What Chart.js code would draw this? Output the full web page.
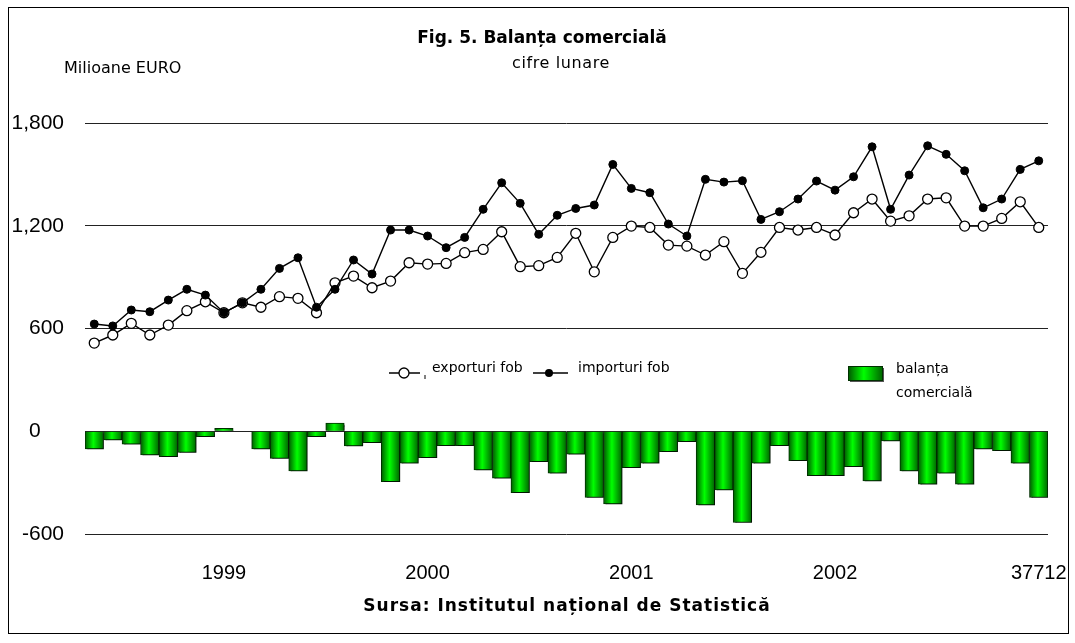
<!DOCTYPE html>
<html lang="ro">
<head>
<meta charset="UTF-8">
<title>Fig. 5. Balanța comercială</title>
<script src="https://cdn.jsdelivr.net/npm/chart.js"></script>
<style>
  html, body { margin: 0; padding: 0; background: #fff; }
  #wrap { position: relative; width: 1075px; height: 643px; overflow: hidden; }
  #frame { position: absolute; left: 8px; top: 7px; width: 1061px; height: 627px; border: 1px solid #000; box-sizing: border-box; }
  #grafic { position: absolute; left: 0; top: 0; }
  .txt { position: absolute; font-family: "DejaVu Sans", sans-serif; color: #000; white-space: nowrap; line-height: 1; }
  .leg { position: absolute; }
</style>
</head>
<body>
<div id="wrap">
  <div id="frame"></div>
  <canvas id="grafic" width="1075" height="643"></canvas>

  <div class="txt" style="left:0;width:1084px;text-align:center;top:29px;font-size:17px;font-weight:bold;">Fig. 5. Balanța comercială</div>
  <div class="txt" style="left:0;width:1122px;text-align:center;top:55px;font-size:16px;letter-spacing:0.6px;">cifre lunare</div>
  <div class="txt" style="left:64px;top:60px;font-size:16px;">Milioane EURO</div>

  <svg class="leg" style="left:388px;top:366px" width="40" height="16">
    <line x1="1" y1="7" x2="32" y2="7" stroke="#000" stroke-width="1.5"/>
    <circle cx="16" cy="7" r="5" fill="#fff" stroke="#000" stroke-width="1.3"/>
    <line x1="37" y1="9" x2="37" y2="13" stroke="#000" stroke-width="1"/>
  </svg>
  <div class="txt" style="left:432px;top:360px;font-size:14px;">exporturi fob</div>

  <svg class="leg" style="left:532px;top:366px" width="40" height="16">
    <line x1="1" y1="7" x2="36" y2="7" stroke="#000" stroke-width="1.5"/>
    <circle cx="17" cy="7" r="4" fill="#000"/>
  </svg>
  <div class="txt" style="left:578px;top:360px;font-size:14px;">importuri fob</div>

  <svg class="leg" style="left:846px;top:364px" width="40" height="20">
    <defs>
      <linearGradient id="gv" x1="0" y1="0" x2="1" y2="0">
        <stop offset="0" stop-color="#005a00"/>
        <stop offset="0.45" stop-color="#00ff00"/>
        <stop offset="1" stop-color="#006400"/>
      </linearGradient>
    </defs>
    <rect x="4" y="4" width="34" height="14" fill="#555"/>
    <rect x="2.5" y="2.5" width="34" height="14" fill="url(#gv)" stroke="#003000" stroke-width="1"/>
  </svg>
  <div class="txt" style="left:896px;top:361px;font-size:14px;">balanța</div>
  <div class="txt" style="left:896px;top:385px;font-size:14px;">comercială</div>

  <div class="txt" style="left:0;width:1134px;text-align:center;top:597px;font-size:17px;font-weight:bold;letter-spacing:1px;">Sursa: Institutul național de Statistică</div>
</div>

<script>
// lunile, ianuarie 1999 - aprilie 2003
const luni = [
  '1999-01','1999-02','1999-03','1999-04','1999-05','1999-06','1999-07','1999-08','1999-09','1999-10','1999-11','1999-12',
  '2000-01','2000-02','2000-03','2000-04','2000-05','2000-06','2000-07','2000-08','2000-09','2000-10','2000-11','2000-12',
  '2001-01','2001-02','2001-03','2001-04','2001-05','2001-06','2001-07','2001-08','2001-09','2001-10','2001-11','2001-12',
  '2002-01','2002-02','2002-03','2002-04','2002-05','2002-06','2002-07','2002-08','2002-09','2002-10','2002-11','2002-12',
  '2003-01','2003-02','2003-03','2003-04'
];

// etichetele axei orizontale si pozitiile lor
const eticheteAx = ['1999', '2000', '2001', '2002', '37712'];
const pozitiiEtichete = [7, 18, 29, 40, 51];

const exporturi = [515,562,630,562,620,704,756,692,750,724,786,776,692,867,906,838,877,984,
  976,980,1043,1062,1165,961,967,1015,1156,931,1132,1198,1190,1087,1081,1029,1107,
  922,1045,1190,1175,1190,1146,1276,1356,1227,1258,1356,1363,1198,1198,1243,1340,1190];

const importuri = [626,615,708,698,766,829,795,692,750,829,951,1013,724,829,1000,918,1175,1175,
  1140,1072,1132,1296,1451,1331,1150,1261,1301,1321,1558,1418,1393,1210,1140,1471,1455,
  1463,1237,1282,1356,1461,1408,1486,1661,1296,1496,1667,1617,1521,1305,1356,1529,1579];

const balanta = [-103,-51,-76,-138,-148,-123,-31,17,0,-103,-158,-232,-31,47,-86,-66,-294,-187,
  -154,-84,-84,-226,-274,-358,-177,-245,-134,-387,-424,-212,-187,-119,-61,-430,-343,
  -533,-187,-84,-172,-259,-259,-207,-290,-57,-232,-309,-245,-309,-103,-113,-187,-387];

const valoriAxaY = [-600, 0, 600, 1200, 1800];

function verde(c) {
  const ch = c.chart;
  const area = ch.chartArea;
  if (!area || c.type !== 'data') return '#00e000';
  const x = ch.scales.x.getPixelForValue(c.dataIndex);
  const w = (area.right - area.left) / luni.length;
  const g = ch.ctx.createLinearGradient(x - w / 2, 0, x + w / 2, 0);
  g.addColorStop(0, '#005a00');
  g.addColorStop(0.45, '#00ff00');
  g.addColorStop(1, '#006400');
  return g;
}

const umbra = {
  id: 'umbra',
  beforeDatasetDraw(chart, args) {
    if (args.meta.type !== 'bar') return;
    const ctx = chart.ctx;
    ctx.save();
    ctx.shadowColor = 'rgba(0,0,0,0.55)';
    ctx.shadowOffsetX = 2;
    ctx.shadowOffsetY = 2;
    ctx.shadowBlur = 0;
  },
  afterDatasetDraw(chart, args) {
    if (args.meta.type === 'bar') chart.ctx.restore();
  }
};

new Chart(document.getElementById('grafic'), {
  data: {
    labels: luni,
    datasets: [
      {
        type: 'line',
        label: 'importuri fob',
        data: importuri,
        order: 0,
        borderColor: '#000',
        borderWidth: 1.4,
        pointRadius: 4,
        pointBackgroundColor: '#000',
        pointBorderColor: '#000',
        pointBorderWidth: 1,
        tension: 0
      },
      {
        type: 'line',
        label: 'exporturi fob',
        data: exporturi,
        order: 1,
        borderColor: '#000',
        borderWidth: 1.4,
        pointRadius: 5,
        pointBackgroundColor: '#fff',
        pointBorderColor: '#000',
        pointBorderWidth: 1.3,
        tension: 0
      },
      {
        type: 'bar',
        label: 'balanța comercială',
        data: balanta,
        order: 2,
        backgroundColor: verde,
        borderColor: '#003000',
        borderWidth: 1,
        categoryPercentage: 1,
        barPercentage: 1
      }
    ]
  },
  options: {
    responsive: false,
    animation: false,
    layout: { padding: { left: 0, right: 27, top: 123, bottom: 0 } },
    plugins: {
      legend: { display: false },
      tooltip: { enabled: false }
    },
    scales: {
      x: {
        grid: { display: false, drawTicks: false },
        border: { display: false },
        ticks: {
          autoSkip: false,
          maxRotation: 0,
          padding: 27,
          color: '#000',
          font: { family: '"Liberation Sans", Arial, sans-serif', size: 20 },
          callback: (v, i) => {
            const k = pozitiiEtichete.indexOf(i);
            return k >= 0 ? eticheteAx[k] : '';
          }
        },
        afterFit: (s) => { s.height = 109; s.paddingLeft = 0; s.paddingRight = 0; }
      },
      y: {
        min: -600,
        max: 1800,
        afterBuildTicks: (s) => { s.ticks = valoriAxaY.map(v => ({ value: v })); },
        grid: { color: '#222', lineWidth: 1, drawTicks: false },
        border: { display: false },
        ticks: {
          padding: 21,
          color: '#000',
          font: { family: '"Liberation Sans", Arial, sans-serif', size: 21 },
          // in original, eticheta 0 sta mai la stanga
          callback: (v) => v === 0 ? '0    ' : v.toLocaleString('en-US')
        },
        afterFit: (s) => { s.width = 85; s.paddingTop = 0; s.paddingBottom = 0; }
      }
    }
  },
  plugins: [umbra]
});
</script>
</body>
</html>
